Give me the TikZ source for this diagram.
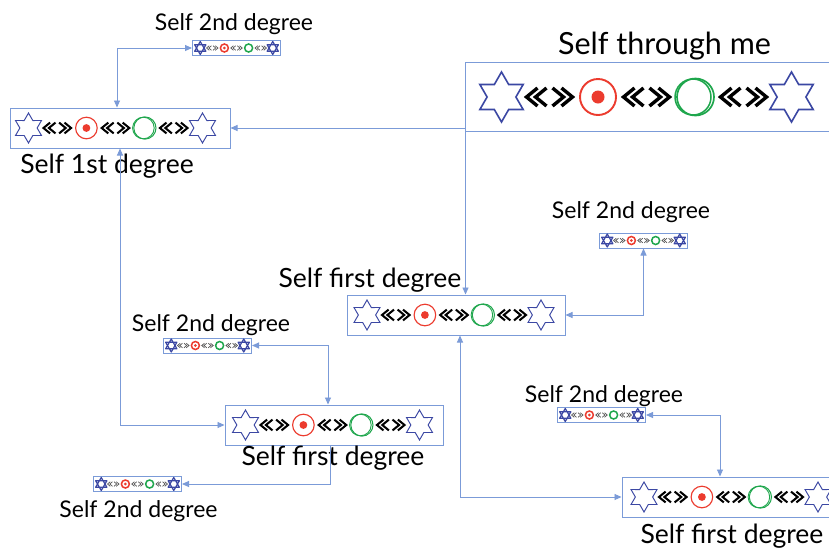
\documentclass[tikz,border=0pt]{standalone}
\usepackage{fontspec}
\setmainfont{Lato}
\usetikzlibrary{arrows.meta}
\definecolor{linkblue}{HTML}{7B9BD8}
\definecolor{starblue}{HTML}{3B47A3}
\definecolor{ringred}{HTML}{EC3B2E}
\definecolor{ringgreen}{HTML}{1EA64C}
\definecolor{chevgray}{HTML}{555555}

\newcommand{\chainfull}[2]{%
\pgfmathsetmacro{\lw}{#2}%
\begin{scope}[shift={(#1)},scale=#2]
 \foreach \cx in {-145,145}
  \draw[starblue,line width=1.6*\lw*1pt,line join=miter]
   (\cx,0) +(90:25) -- +(120:14.4) -- +(150:25) -- +(180:14.4) -- +(210:25) -- +(240:14.4)
   -- +(270:25) -- +(300:14.4) -- +(330:25) -- +(0:14.4) -- +(30:25) -- +(60:14.4) -- cycle;
 \foreach \cx in {-97,0,97} {
  \foreach \tx in {-23,-14}
   \draw[black,line width=3.4*\lw*1pt] (\cx,0) ++(\tx,0) +(11,-9) -- +(0,0) -- +(11,9);
  \foreach \tx in {23,14}
   \draw[black,line width=3.4*\lw*1pt] (\cx,0) ++(\tx,0) +(-11,-9) -- +(0,0) -- +(-11,9);
 }
 \draw[ringred,line width=1.9*\lw*1pt] (-48.5,0) circle[radius=18];
 \fill[ringred] (-48.5,0) circle[radius=6.5];
 \draw[ringgreen,line width=1.7*\lw*1pt] (49,0) circle[radius=18.5];
 \draw[ringgreen,line width=1.5*\lw*1pt] (46.5,0) circle[radius=18];
\end{scope}}

\newcommand{\chainsmall}[1]{%
\begin{scope}[shift={(#1)},scale=0.25]
 \foreach \cx in {-145,145}
  \draw[starblue,line width=1.2pt,line join=round]
   (\cx,0) +(90:26) -- +(210:26) -- +(330:26) -- cycle
   (\cx,0) +(270:26) -- +(30:26) -- +(150:26) -- cycle;
 \foreach \cx in {-97,0,97} {
  \foreach \tx in {-23,-14}
   \draw[chevgray,line width=0.7pt] (\cx,0) ++(\tx,0) +(11,-9) -- +(0,0) -- +(11,9);
  \foreach \tx in {23,14}
   \draw[chevgray,line width=0.7pt] (\cx,0) ++(\tx,0) +(-11,-9) -- +(0,0) -- +(-11,9);
 }
 \draw[ringred,line width=1.5pt] (-48.5,0) circle[radius=16];
 \fill[ringred] (-48.5,0) circle[radius=6];
 \draw[ringgreen,line width=1.5pt] (48.5,0) circle[radius=16];
\end{scope}}

\tikzset{
 box/.style={draw=linkblue,line width=1pt,inner sep=0pt,fill=none},
 bigbox/.style={box,minimum width=218pt,minimum height=40pt},
 smallbox/.style={box,minimum width=88pt,minimum height=15pt},
 link/.style={draw=linkblue,line width=0.9pt,-{Triangle[length=7pt,width=6pt]}},
 dlink/.style={draw=linkblue,line width=0.9pt,{Triangle[length=7pt,width=6pt]}-{Triangle[length=7pt,width=6pt]}},
 titlelab/.style={font=\fontsize{30.5}{30.5}\selectfont,anchor=base,inner sep=0pt},
 lab/.style={font=\fontsize{26.5}{26.5}\selectfont,anchor=base,inner sep=0pt},
 lab2/.style={font=\fontsize{23}{23}\selectfont,anchor=base,inner sep=0pt},
}

\begin{document}
\begin{tikzpicture}[x=1pt,y=-1pt]
\useasboundingbox[fill=white] (0,0) rectangle (829,547);

% boxes
\node[box,minimum width=372pt,minimum height=69pt] (main) at (651,96.5) {};
\node[bigbox,minimum width=220pt] (first1) at (120,128) {};
\node[bigbox] (mid) at (456,315) {};
\node[bigbox] (lowleft) at (334,425) {};
\node[bigbox] (lowright) at (731,497) {};
\node[smallbox] (s1) at (236.5,48) {};
\node[smallbox] (s2) at (643.5,240.5) {};
\node[smallbox] (s3) at (207.5,345.5) {};
\node[smallbox] (s4) at (137.5,484) {};
\node[smallbox] (s5) at (601.5,415) {};

% chains
\chainfull{646.5,97}{1}
\chainfull{115.5,128}{0.6}
\chainfull{454,315}{0.6}
\chainfull{332.5,425}{0.6}
\chainfull{731,497}{0.6}
\chainsmall{236.5,48}
\chainsmall{643.5,240.5}
\chainsmall{207.5,345.5}
\chainsmall{137.5,484}
\chainsmall{601.5,415}

% labels
\node[titlelab] (tmain) at (664.5,54) {Self through me};
\node[lab] (tfirst1) at (107,173) {Self 1st degree};
\node[lab] (tmid) at (370,287) {Self first degree};
\node[lab] (tlowleft) at (333,465) {Self first degree};
\node[lab] (tlowright) at (732,543) {Self first degree};
\node[lab2] (ts1) at (234,30) {Self 2nd degree};
\node[lab2] (ts2) at (631,218) {Self 2nd degree};
\node[lab2] (ts3) at (211,331) {Self 2nd degree};
\node[lab2] (ts4) at (138.5,517) {Self 2nd degree};
\node[lab2] (ts5) at (604,402) {Self 2nd degree};

% connectors
\coordinate (mainleft) at (first1.east -| main.west);
\coordinate (mainbot) at ([xshift=1pt]main.south west);
\draw[link] (mainleft) -- (first1.east);
\draw[link] (mainbot) -- (mainbot |- mid.north);
\draw[dlink] (s1.west) -| ([xshift=-3pt]first1.north);
\draw[dlink] (first1.south) |- (lowleft.west);
\draw[dlink] (s3.east) -| ([xshift=-6pt]lowleft.north);
\draw[link] ([xshift=-4pt]lowleft.south) |- (s4.east);
\draw[dlink] (mid.east) -| (s2.south);
\draw[dlink] ([xshift=4pt]mid.south) |- (lowright.west);
\draw[dlink] (s5.east) -| ([xshift=-11pt]lowright.north);
\end{tikzpicture}
\end{document}
